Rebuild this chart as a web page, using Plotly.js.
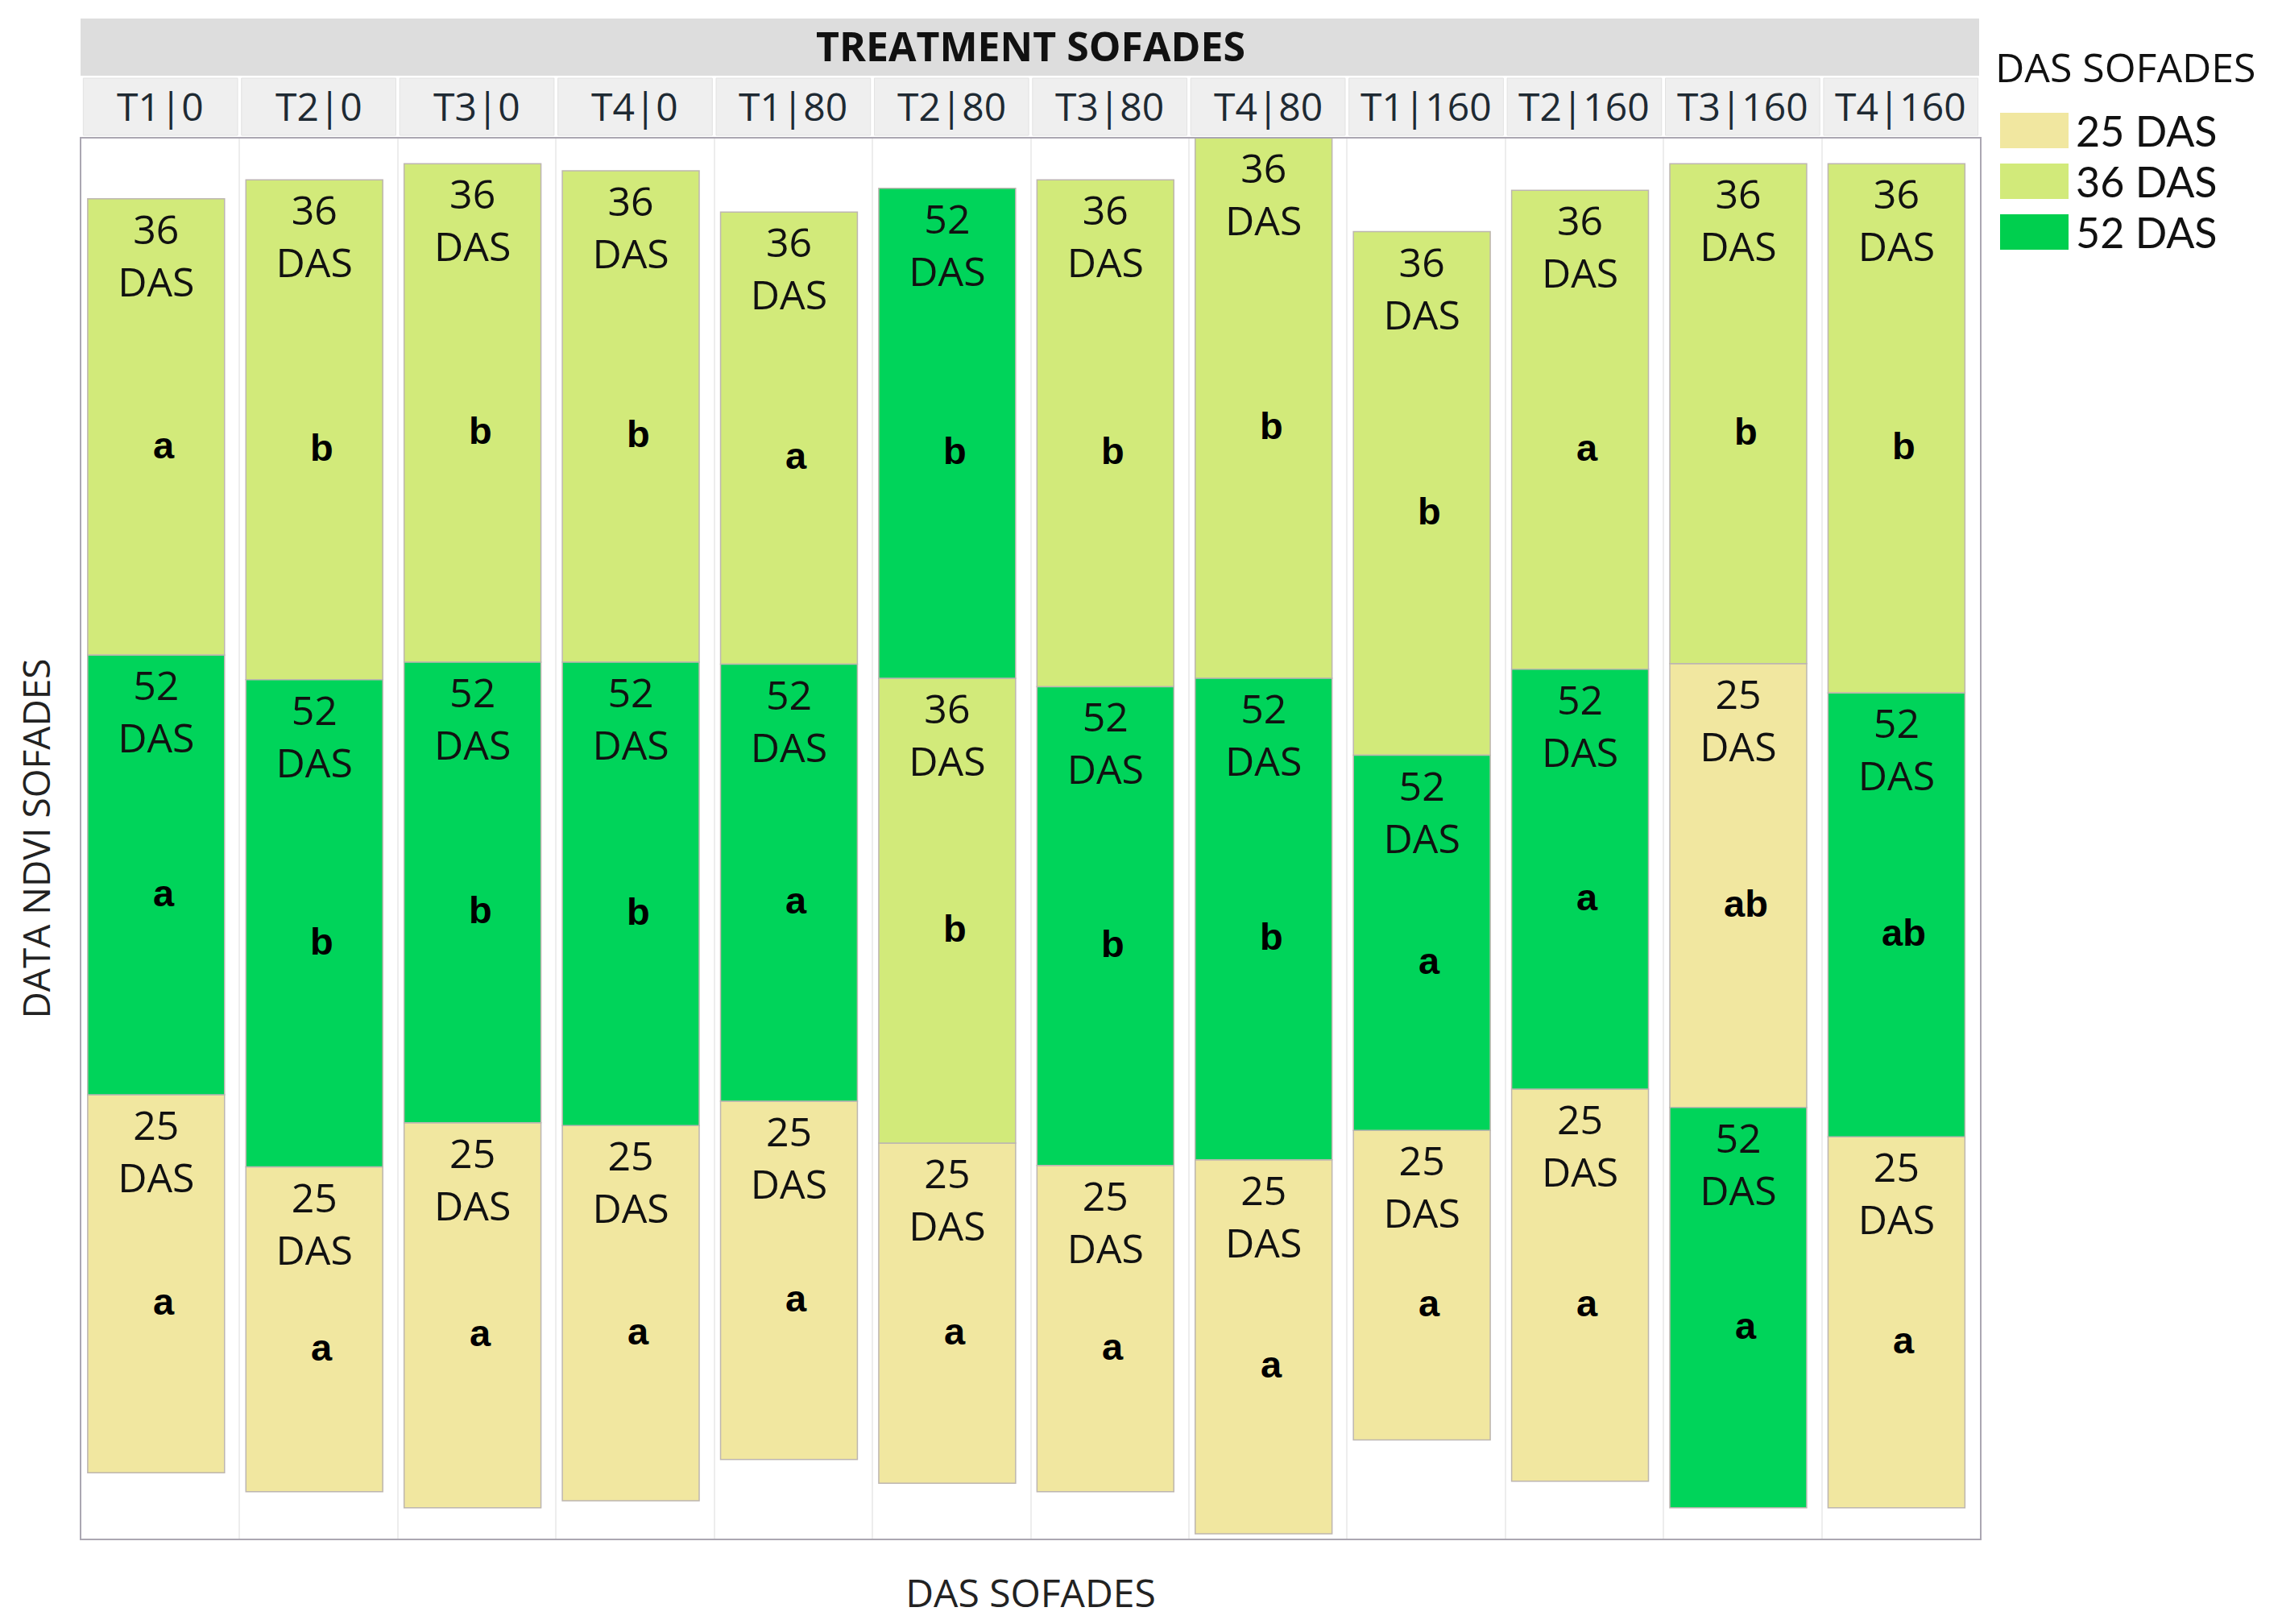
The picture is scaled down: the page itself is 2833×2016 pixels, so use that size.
<!DOCTYPE html>
<html>
<head>
<meta charset="utf-8">
<script src="https://cdn.plot.ly/plotly-3.0.1.min.js"></script>
<style>
  html, body { margin: 0; padding: 0; background: #ffffff; }
  #chart { width: 2833px; height: 2016px; }
</style>
</head>
<body>
<div id="chart"></div>
<script>
// ---------------- DATA ----------------
const categories = ["T1|0", "T2|0", "T3|0", "T4|0", "T1|80", "T2|80", "T3|80", "T4|80", "T1|160", "T2|160", "T3|160", "T4|160"];
const dasNames = ["25 DAS", "36 DAS", "52 DAS"];
const dasLabels = ["25<br>DAS", "36<br>DAS", "52<br>DAS"];

// NDVI per sampling date (segment heights)
const ndvi25 = [0.270, 0.232, 0.275, 0.268, 0.256, 0.243, 0.233, 0.267, 0.221, 0.280, 0.317, 0.265];
const ndvi36 = [0.326, 0.357, 0.356, 0.351, 0.323, 0.332, 0.362, 0.386, 0.374, 0.342, 0.357, 0.378];
const ndvi52 = [0.314, 0.348, 0.329, 0.331, 0.312, 0.350, 0.342, 0.344, 0.268, 0.300, 0.286, 0.317];

// significance letters
const letters25 = ["a", "a", "a", "a", "a", "a", "a", "a", "a", "a", "ab", "a"];
const letters36 = ["a", "b", "b", "b", "a", "b", "b", "b", "b", "a", "b", "b"];
const letters52 = ["a", "b", "b", "b", "a", "b", "b", "b", "a", "a", "a", "ab"];

const dasColors = ["#F1E7A0", "#D2EA7A", "#00D45A"];
const legendColors = ["#F1E7A0", "#D2EA7A", "#00CF4E"];

// ---------------- build centered, value-sorted stacks ----------------
const series = [ndvi25, ndvi36, ndvi52];
const letters = [letters25, letters36, letters52];
const bases = series.map(() => new Array(categories.length).fill(0));

categories.forEach((c, i) => {
  const vals = series.map(s => s[i]);
  const total = vals.reduce((a, b) => a + b, 0);
  const order = [0, 1, 2].sort((a, b) => vals[a] - vals[b]);
  let start = -total / 2;
  order.forEach(k => { bases[k][i] = start; start += vals[k]; });
});

const traces = series.map((s, k) => ({
  type: "bar",
  name: dasNames[k],
  x: categories,
  y: s,
  base: bases[k],
  width: 0.865,
  offset: -0.46,
  marker: { color: dasColors[k], line: { color: "#BDB6B0", width: 1.5 } },
  text: categories.map(() => dasLabels[k]),
  textposition: "inside",
  insidetextanchor: "end",
  textangle: 0,
  constraintext: "none",
  textfont: { family: "Open Sans", size: 50, color: "#111111" },
  showlegend: false,
  hoverinfo: "skip"
}));

// ---------------- geometry helpers (pixels -> paper) ----------------
const W = 2833, H = 2016;
const M = { l: 101, r: 375, t: 172, b: 106 };
const PW = W - M.l - M.r, PH = H - M.t - M.b;
const px = x => (x - M.l) / PW;
const py = y => (H - M.b - y) / PH;

const annotations = [];
const shapes = [];

// significance letters at segment centres
series.forEach((s, k) => {
  categories.forEach((c, i) => {
    annotations.push({
      x: c, y: bases[k][i] + s[i] / 2, xref: "x", yref: "y",
      xanchor: "center", yanchor: "middle",
      text: "<b>" + letters[k][i] + "</b>", showarrow: false,
      yshift: -22, xshift: 4,
      font: { family: "Liberation Sans", size: 47, color: "#000000" }
    });
  });
});

// top strip
shapes.push({ type: "rect", xref: "paper", yref: "paper", x0: px(100), x1: px(2457), y0: py(94), y1: py(23),
  fillcolor: "#DDDDDD", line: { width: 0 }, layer: "below" });
annotations.push({ x: 0.5, y: py(57), xref: "paper", yref: "paper", xanchor: "center", yanchor: "middle",
  text: "<b>TREATMENT SOFADES</b>", borderpad: 0,
  showarrow: false, font: { family: "Open Sans", size: 50, color: "#111111" } });

// panel header cells
categories.forEach((c, i) => {
  shapes.push({ type: "rect", xref: "x", yref: "paper", x0: i - 0.5 + 0.012, x1: i + 0.5 - 0.012,
    y0: py(168), y1: py(97), fillcolor: "#EFEFEF", line: { color: "#E2E2E2", width: 1 }, layer: "below" });
  annotations.push({ x: c, y: py(132), xref: "x", yref: "paper", xanchor: "center", yanchor: "middle",
    text: c, showarrow: false, borderpad: 0,
    font: { family: "Open Sans", size: 48, color: "#1E2A33" } });
});

// custom legend
annotations.push({ x: px(2476), y: py(83), xref: "paper", yref: "paper", xanchor: "left", yanchor: "middle",
  text: "DAS SOFADES", borderpad: 0,
  showarrow: false, font: { family: "Open Sans", size: 50, color: "#111111" } });
dasNames.forEach((n, k) => {
  const top = 140 + k * 63;
  shapes.push({ type: "rect", xref: "paper", yref: "paper", x0: px(2483), x1: px(2568), y0: py(top + 44), y1: py(top),
    fillcolor: legendColors[k], line: { width: 0 } });
  annotations.push({ x: px(2576), y: py(top + 22), xref: "paper", yref: "paper", xanchor: "left", yanchor: "middle",
    text: n, borderpad: 0,
    showarrow: false, font: { family: "Lato", size: 52, color: "#111111" } });
});

const layout = {
  width: W, height: H,
  margin: M,
  paper_bgcolor: "#FFFFFF",
  plot_bgcolor: "#FFFFFF",
  barmode: "overlay",
  showlegend: false,
  hovermode: false,
  xaxis: {
    type: "category",
    categoryorder: "array",
    categoryarray: categories,
    range: [-0.5, categories.length - 0.5],
    tickson: "boundaries",
    showgrid: true, gridcolor: "#EDEDED", gridwidth: 2,
    showticklabels: false, ticks: "",
    showline: true, linecolor: "#ABA7B2", linewidth: 2, mirror: true,
    zeroline: false, fixedrange: true, automargin: false,
    title: { text: "DAS SOFADES", standoff: 50, font: { family: "Open Sans", size: 48, color: "#222222" } }
  },
  yaxis: {
    range: [-0.502, 0.498],
    showgrid: false, zeroline: false, showticklabels: false, ticks: "",
    showline: true, linecolor: "#ABA7B2", linewidth: 2, mirror: true,
    fixedrange: true, automargin: false,
    title: { text: "DATA NDVI SOFADES", standoff: 22, font: { family: "Open Sans", size: 46, color: "#222222" } }
  },
  shapes: shapes,
  annotations: annotations
};

Plotly.newPlot("chart", traces, layout, { displayModeBar: false, staticPlot: true });
</script>
</body>
</html>
